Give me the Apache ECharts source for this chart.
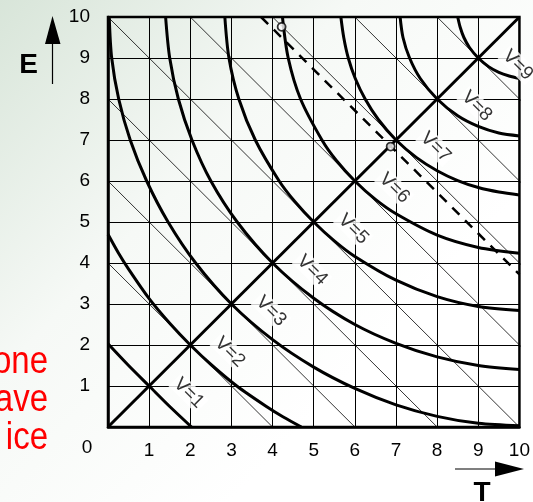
<!DOCTYPE html>
<html>
<head>
<meta charset="utf-8">
<script src="https://cdn.jsdelivr.net/npm/echarts@6/dist/echarts.min.js"></script>
<style>
  html, body { margin: 0; padding: 0; background: #fff; }
  #main { width: 533px; height: 502px; }
</style>
</head>
<body>
<div id="main"></div>
<script>
// curves of constant V as [T, E] points
var v1 = [[0, 2.03], [0.5, 1.5], [1, 1], [1.5, 0.5], [2.03, 0]];
var v2 = [[0, 4.7], [0.25, 4.25], [0.5, 3.85], [1, 3.13], [1.5, 2.53], [2, 2], [2.53, 1.5], [3.13, 1], [3.85, 0.5], [4.25, 0.25], [4.7, 0]];
var v3 = [[0.03, 10], [0.09, 9], [0.26, 8], [0.54, 7], [0.94, 6], [1.46, 5], [2.13, 4], [3, 3], [4, 2.13], [5, 1.46], [6, 0.94], [7, 0.54], [8, 0.26], [9, 0.09], [10, 0.03]];
var v4 = [[1.4, 10], [1.5, 9], [1.71, 8], [2.04, 7], [2.5, 6], [3.14, 5], [4, 4], [5, 3.14], [6, 2.5], [7, 2.04], [8, 1.71], [9, 1.5], [10, 1.4]];
var v5 = [[2.84, 10], [2.94, 9], [3.18, 8], [3.58, 7], [4.16, 6], [4.54, 5.5], [5, 5], [5.5, 4.54], [6, 4.16], [7, 3.58], [8, 3.18], [9, 2.94], [10, 2.84]];
var v6 = [[4.24, 10], [4.38, 9], [4.68, 8], [5.2, 7], [5.55, 6.5], [6, 6], [6.5, 5.55], [7, 5.2], [8, 4.68], [9, 4.38], [10, 4.24]];
var v7 = [[5.66, 10], [5.73, 9.5], [5.84, 9], [6.01, 8.5], [6.25, 8], [6.57, 7.5], [7, 7], [7.5, 6.57], [8, 6.25], [8.5, 6.01], [9, 5.84], [9.5, 5.73], [10, 5.66]];
var v8 = [[7.1, 10], [7.17, 9.5], [7.33, 9], [7.59, 8.5], [8, 8], [8.5, 7.59], [9, 7.33], [9.5, 7.17], [10, 7.1]];
var v9 = [[8.5, 10], [8.56, 9.75], [8.65, 9.5], [8.79, 9.25], [9, 9], [9.25, 8.79], [9.5, 8.65], [9.75, 8.56], [10, 8.5]];
var curves = [v1, v2, v3, v4, v5, v6, v7, v8, v9];
var vValues = [1, 2, 3, 4, 5, 6, 7, 8, 9];

// thin lines of constant T + E
var sums = [2, 4, 6, 8, 10, 12, 14, 16, 18];
// dashed line and its two open circles
var dashed = [[3.72, 10], [10, 3.72]];
var circles = [[4.22, 9.76], [6.87, 6.84]];
var diagonal = [[0, 0], [10, 10]];

var chart = echarts.init(document.getElementById('main'));

var series = [];
sums.forEach(function (s) {
    series.push({
        type: 'line', data: [[0, s], [s, 0]], symbol: 'none', silent: true,
        lineStyle: { color: '#000', width: 0.8 }, z: 2
    });
});
curves.forEach(function (c) {
    series.push({
        type: 'line', data: c, smooth: 0.3, symbol: 'none', silent: true,
        lineStyle: { color: '#000', width: 3 }, z: 3
    });
});
series.push({
    type: 'line', data: diagonal, symbol: 'none',
    lineStyle: { color: '#000', width: 3 }, z: 3
});
series.push({
    type: 'line', data: dashed, symbol: 'none',
    lineStyle: { color: '#000', width: 2.5, type: [10, 8] }, z: 4
});
series.push({
    type: 'scatter', data: circles, symbol: 'circle', symbolSize: 8,
    itemStyle: { color: '#fff', borderColor: '#000', borderWidth: 1.8 }, z: 6
});
series.push({
    type: 'scatter', symbolSize: 0, z: 7,
    data: vValues.map(function (v) { return [v, v]; }),
    label: {
        show: true, position: 'inside', rotate: -45, offset: [33, -23],
        formatter: function (p) { return 'V=' + p.value[0]; },
        fontFamily: 'Liberation Sans', fontSize: 19, color: '#000',
        backgroundColor: '#fff', padding: [0, 2]
    }
});

chart.setOption({
    animation: false,
    backgroundColor: {
        type: 'linear', x: 0, y: 0, x2: 0.7, y2: 0.7,
        colorStops: [{ offset: 0, color: '#d8e5d9' }, { offset: 0.5, color: '#f6f9f6' }, { offset: 1, color: '#ffffff' }]
    },
    grid: {
        left: 108, top: 17, width: 413, height: 410,
        show: true, borderColor: '#000', borderWidth: 2.5, backgroundColor: 'transparent'
    },
    xAxis: {
        type: 'value', min: 0, max: 10, interval: 1,
        axisLine: { lineStyle: { color: '#000', width: 2.5 } },
        axisTick: { show: false },
        splitLine: { lineStyle: { color: '#000', width: 1 } },
        axisLabel: { showMinLabel: false, margin: 14, color: '#000', fontSize: 19, fontFamily: 'Liberation Sans' }
    },
    yAxis: {
        type: 'value', min: 0, max: 10, interval: 1,
        axisLine: { lineStyle: { color: '#000', width: 2.5 } },
        axisTick: { show: false },
        splitLine: { lineStyle: { color: '#000', width: 1 } },
        axisLabel: { showMinLabel: false, margin: 18, color: '#000', fontSize: 19, fontFamily: 'Liberation Sans' }
    },
    graphic: [
        { type: 'text', x: 87, y: 448, style: { text: '0', fill: '#000', font: '19px Liberation Sans', textAlign: 'center', textVerticalAlign: 'middle' } },
        { type: 'line', shape: { x1: 52.5, y1: 84, x2: 52.5, y2: 40 }, style: { stroke: '#000', lineWidth: 1.2 } },
        { type: 'polygon', shape: { points: [[52.5, 16], [45, 44], [60.5, 44]] }, style: { fill: '#000' } },
        { type: 'text', x: 28.5, y: 65, style: { text: 'E', fill: '#000', font: 'bold 28px Liberation Sans', textAlign: 'center', textVerticalAlign: 'middle' } },
        { type: 'line', shape: { x1: 455, y1: 469, x2: 497, y2: 469 }, style: { stroke: '#000', lineWidth: 1.2 } },
        { type: 'polygon', shape: { points: [[495, 461.5], [495, 476.5], [524, 469]] }, style: { fill: '#000' } },
        { type: 'text', x: 482, y: 493, style: { text: 'T', fill: '#000', font: 'bold 28px Liberation Sans', textAlign: 'center', textVerticalAlign: 'middle' } },
        { type: 'text', x: 48, y: 362, scaleY: 1.2, style: { text: 'one', fill: '#ff0000', font: '33px Liberation Sans', textAlign: 'right', textVerticalAlign: 'middle' } },
        { type: 'text', x: 48, y: 400, scaleY: 1.2, style: { text: 'ave', fill: '#ff0000', font: '33px Liberation Sans', textAlign: 'right', textVerticalAlign: 'middle' } },
        { type: 'text', x: 48, y: 438, scaleY: 1.2, style: { text: 'ice', fill: '#ff0000', font: '33px Liberation Sans', textAlign: 'right', textVerticalAlign: 'middle' } }
    ],
    series: series
});
</script>
</body>
</html>
